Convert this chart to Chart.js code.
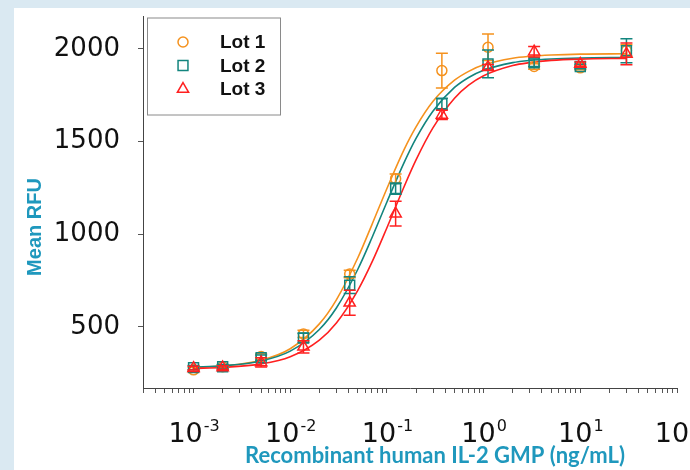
<!DOCTYPE html>
<html>
<head>
<meta charset="utf-8">
<script src="https://cdn.jsdelivr.net/npm/chart.js@4.4.1/dist/chart.umd.min.js"></script>
<style>
  html, body { margin: 0; padding: 0; background: #dae9f2; }
  #panel { position: absolute; left: 14px; top: 8px; width: 676px; height: 462px; background: #fff; overflow: hidden; }
</style>
</head>
<body>
<div id="panel"><canvas id="chart" width="676" height="462"></canvas></div>
<script>
// concentrations, ng/mL
var conc = [0.001, 0.002, 0.005, 0.0137, 0.0412, 0.123, 0.37, 1.11, 3.33, 10, 30];
// mean RFU per lot
var lot1 = [268, 285, 340, 462, 785, 1300, 1883, 2009, 1905, 1898, 1992];
var lot2 = [280, 285, 333, 440, 725, 1246, 1704, 1919, 1925, 1905, 1990];
var lot3 = [277, 280, 308, 392, 630, 1111, 1644, 1901, 1985, 1918, 1973];
// error bar half-lengths
var err1 = [12, 10, 15, 20, 20, 25, 94, 72, 15, 10, 30];
var err2 = [12, 12, 15, 25, 45, 30, 30, 75, 20, 12, 65];
var err3 = [10, 10, 25, 33, 67, 67, 25, 15, 28, 12, 59];

// fitted curves
var curveX = [0.001, 0.002, 0.005, 0.01, 0.02, 0.03, 0.05, 0.07, 0.1, 0.15, 0.2, 0.3, 0.5, 0.7, 1, 2, 3, 5, 10, 30];
var fit1 = [281, 289, 320, 382, 516, 646, 873, 1052, 1247, 1455, 1579, 1717, 1831, 1879, 1914, 1950, 1960, 1967, 1972, 1974];
var fit2 = [283, 290, 316, 369, 486, 602, 811, 981, 1174, 1385, 1517, 1665, 1792, 1846, 1885, 1926, 1938, 1946, 1951, 1954];
var fit3 = [276, 281, 300, 339, 429, 521, 697, 849, 1035, 1255, 1401, 1575, 1734, 1804, 1855, 1910, 1926, 1938, 1945, 1949];

var lotNames = ['Lot 1', 'Lot 2', 'Lot 3'];
var xExponents = [-3, -2, -1, 0, 1, 2];
var yTicks = [500, 1000, 1500, 2000];

var orange = '#f5921e', teal = '#13857e', red = '#ff2020';
var titleColor = '#1f98bd';

function pts(xs, ys) {
  return xs.map(function (x, i) { return { x: x, y: ys[i] }; });
}

function pointSet(name, ys, errs, color, style, r, ord) {
  return {
    label: name, data: pts(conc, ys), errors: errs,
    showLine: false, pointStyle: style, pointRadius: r, pointHoverRadius: r,
    pointBorderWidth: 1.5, borderColor: color, backgroundColor: 'rgba(0,0,0,0)',
    order: ord
  };
}

function curveSet(ys, color, ord) {
  return {
    data: pts(curveX, ys), showLine: true, pointRadius: 0,
    borderColor: color, borderWidth: 1.6, fill: false,
    cubicInterpolationMode: 'monotone', order: ord
  };
}

var errorBars = {
  id: 'errorBars',
  afterDatasetDraw: function (chart, args) {
    var ds = chart.data.datasets[args.index];
    if (!ds.errors) return;
    var ctx = chart.ctx, xs = chart.scales.x, ys = chart.scales.y;
    ctx.save();
    ctx.strokeStyle = ds.borderColor;
    ctx.lineWidth = 1.5;
    ds.data.forEach(function (p, i) {
      var px = xs.getPixelForValue(p.x);
      var t = ys.getPixelForValue(p.y + ds.errors[i]);
      var b = ys.getPixelForValue(p.y - ds.errors[i]);
      ctx.beginPath();
      ctx.moveTo(px, t); ctx.lineTo(px, b);
      ctx.moveTo(px - 6, t); ctx.lineTo(px + 6, t);
      ctx.moveTo(px - 6, b); ctx.lineTo(px + 6, b);
      ctx.stroke();
    });
    ctx.restore();
  }
};

var legendBox = {
  id: 'legendBox',
  afterDraw: function (chart) {
    var ctx = chart.ctx, area = chart.chartArea;
    var left = area.left + 4, top = area.top + 1;
    ctx.save();
    ctx.fillStyle = '#fff';
    ctx.fillRect(left, top, 133, 97);
    ctx.strokeStyle = '#8a8a8a';
    ctx.lineWidth = 1;
    ctx.strokeRect(left + 0.5, top + 0.5, 133, 97);
    var sets = chart.data.datasets.filter(function (d) { return d.errors; });
    sets.forEach(function (d, i) {
      var y = top + 24.5 + i * 23.5;
      ctx.strokeStyle = d.borderColor;
      ctx.fillStyle = 'rgba(0,0,0,0)';
      ctx.lineWidth = 1.5;
      Chart.helpers.drawPoint(ctx, { pointStyle: d.pointStyle, radius: d.pointRadius, borderWidth: 1.5, rotation: 0 }, left + 36, y);
      ctx.fillStyle = '#111';
      ctx.font = 'bold 19px "Liberation Sans", Arial, sans-serif';
      ctx.textBaseline = 'middle';
      ctx.textAlign = 'left';
      ctx.fillText(d.label, left + 73, y + 1);
    });
    ctx.restore();
  }
};

var axisText = {
  id: 'axisText',
  afterDraw: function (chart) {
    var ctx = chart.ctx, xs = chart.scales.x, area = chart.chartArea;
    ctx.save();
    ctx.fillStyle = '#111';
    ctx.textBaseline = 'alphabetic';
    ctx.textAlign = 'left';
    xExponents.forEach(function (e) {
      var px = xs.getPixelForValue(Math.pow(10, e));
      var base = '10', sup = String(e);
      ctx.font = '27px "DejaVu Sans", sans-serif';
      var wb = ctx.measureText(base).width;
      ctx.font = '16px "DejaVu Sans", sans-serif';
      var ws = ctx.measureText(sup).width;
      var x0 = px - (wb + ws) / 2;
      ctx.font = '27px "DejaVu Sans", sans-serif';
      ctx.fillText(base, x0, area.bottom + 54);
      ctx.font = '16px "DejaVu Sans", sans-serif';
      ctx.fillText(sup, x0 + wb + 1, area.bottom + 43);
    });
    // axis titles
    ctx.fillStyle = titleColor;
    ctx.textAlign = 'center';
    ctx.font = 'bold 22px Lato, sans-serif';
    ctx.fillText('Recombinant human IL-2 GMP (ng/mL)', 421, area.bottom + 75);
    ctx.translate(21, 219);
    ctx.rotate(-Math.PI / 2);
    ctx.textBaseline = 'middle';
    ctx.font = 'bold 20px "Liberation Sans", Arial, sans-serif';
    ctx.fillText('Mean RFU', 0, 0);
    ctx.restore();
  }
};

new Chart(document.getElementById('chart'), {
  type: 'scatter',
  data: {
    datasets: [
      curveSet(fit1, orange, 6),
      curveSet(fit2, teal, 5),
      curveSet(fit3, red, 4),
      pointSet(lotNames[0], lot1, err1, orange, 'circle', 5, 3),
      pointSet(lotNames[1], lot2, err2, teal, 'rect', 7, 2),
      pointSet(lotNames[2], lot3, err3, red, 'triangle', 6.5, 1)
    ]
  },
  options: {
    responsive: false,
    animation: false,
    devicePixelRatio: 1,
    layout: { padding: { top: 8, right: 13, left: 0, bottom: 0 } },
    plugins: { legend: { display: false }, tooltip: { enabled: false } },
    scales: {
      x: {
        type: 'logarithmic',
        min: 0.0003,
        max: 100,
        afterBuildTicks: function (axis) {
          var t = [];
          for (var e = xExponents[0] - 1; e < xExponents[xExponents.length - 1]; e++) {
            for (var d = 1; d <= 9; d++) {
              var v = d * Math.pow(10, e);
              if (v >= 0.0003 - 1e-9) t.push({ value: v });
            }
          }
          t.push({ value: 100 });
          axis.ticks = t;
        },
        afterFit: function (s) { s.height = 82; s.paddingLeft = 0; s.paddingRight = 0; },
        ticks: { display: false, autoSkip: false },
        grid: { drawOnChartArea: false, drawTicks: true, tickLength: 5, color: '#555', lineWidth: 1 },
        border: { color: '#444', width: 1 }
      },
      y: {
        type: 'linear',
        min: 170,
        max: 2175,
        afterBuildTicks: function (axis) {
          axis.ticks = yTicks.map(function (v) { return { value: v }; });
        },
        afterFit: function (s) { s.width = 129; s.paddingTop = 0; s.paddingBottom = 0; },
        ticks: {
          padding: 18,
          color: '#111',
          font: { family: '"DejaVu Sans", sans-serif', size: 26 },
          callback: function (v) { return String(v); }
        },
        grid: { drawOnChartArea: false, drawTicks: true, tickLength: 5, color: '#555' },
        border: { color: '#444', width: 1 }
      }
    }
  },
  plugins: [errorBars, legendBox, axisText]
});
</script>
</body>
</html>
